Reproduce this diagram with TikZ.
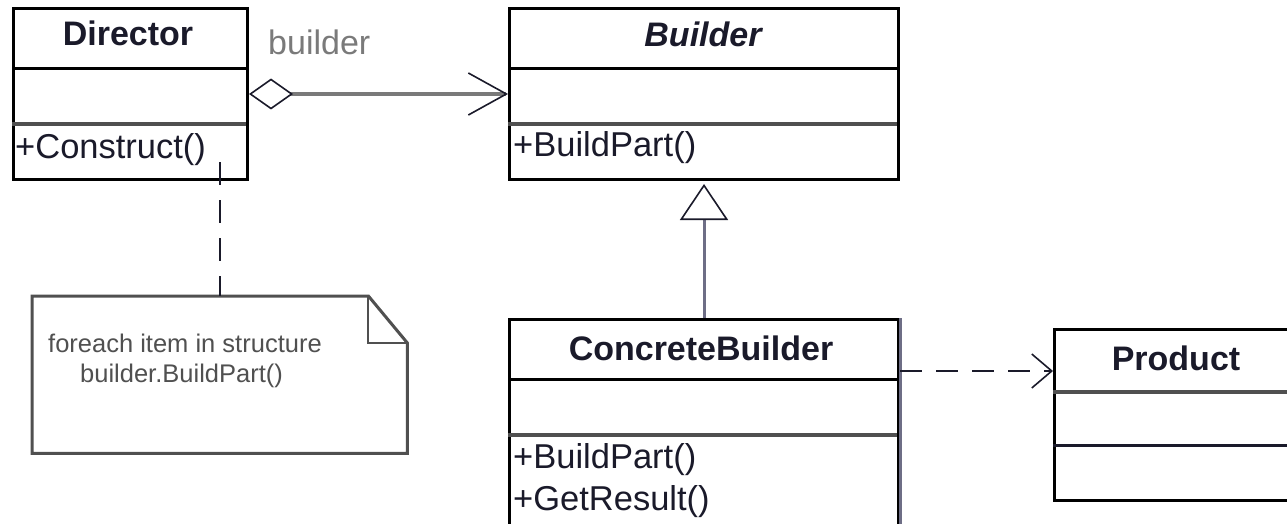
\documentclass[tikz,border=0pt]{standalone}
\usepackage{fontspec}
\setmainfont{Liberation Sans}
\usetikzlibrary{arrows.meta}
\definecolor{ink}{HTML}{1A1A2A}
\definecolor{rule}{HTML}{505050}
\definecolor{linkgrey}{HTML}{7A7A7A}
\definecolor{edgeblue}{HTML}{6E6E86}
\begin{document}
\begin{tikzpicture}[x=1pt,y=-1pt,
  classbox/.style={draw=black, line width=3pt, inner sep=0pt, anchor=north west},
  divider/.style={draw=black, line width=3pt},
  opsdivider/.style={draw=rule, line width=4pt},
  classname/.style={anchor=base, inner sep=0pt, text=ink, font=\fontsize{34}{40}\selectfont\bfseries},
  member/.style={anchor=base west, inner sep=0pt, text=ink, font=\fontsize{34.5}{40}\selectfont},
  notetext/.style={anchor=base west, inner sep=0pt, text=rule, font=\fontsize{25.5}{30}\selectfont},
  rolelabel/.style={anchor=base west, inner sep=0pt, text=linkgrey, font=\fontsize{34}{40}\selectfont},
  aggregation/.style={draw=linkgrey, line width=3.5pt,
    {Diamond[open, fill=white, length=44pt, width=31pt, line width=1.6pt, color=ink]}-{Straight Barb[length=38pt, width=42pt, line width=1.6pt, color=ink]}},
  generalization/.style={draw=edgeblue, line width=3pt,
    -{Triangle[open, fill=white, length=36pt, width=48pt, line width=1.6pt, color=ink]}, shorten >=3pt},
  dependency/.style={draw=ink, line width=2.5pt, dash pattern=on 22pt off 14pt,
    -{Straight Barb[length=20pt, width=34pt, line width=1.6pt, color=ink]}},
  notelink/.style={draw=ink, line width=2.5pt, dash pattern=on 23pt off 15pt},
]
\clip (0,0) rectangle (1287,524);
\useasboundingbox (0,0) rectangle (1287,524);
\fill[white] (0,0) rectangle (1287,524);

% Director
\node[classbox, minimum width=234pt, minimum height=171pt] (director) at (12,7) {};
\draw[divider] (12,69) -- (246,69);
\draw[opsdivider] (12,124) -- (246,124);
\node[classname] (directorname) at (128,46) {Director};
\node[member] (construct) at (15,158) {+Construct()};

% Builder (abstract)
\node[classbox, minimum width=389pt, minimum height=171pt] (builder) at (508,7) {};
\draw[divider] (508,69) -- (897,69);
\draw[opsdivider] (508,124) -- (897,124);
\node[classname, font=\fontsize{34}{40}\selectfont\bfseries\itshape] (buildername) at (703,47) {Builder};
\node[member] (buildpart) at (513,157) {+BuildPart()};

% ConcreteBuilder
\node[classbox, minimum width=389pt, minimum height=260pt] (cb) at (508,318) {};
\draw[edgeblue, line width=3pt] (cb.north east) -- (cb.south east);
\draw[divider] (508,379) -- (897,379);
\draw[opsdivider] (508,435) -- (897,435);
\node[classname] (cbname) at (701,360) {ConcreteBuilder};
\node[member] (cbbuild) at (513,468) {+BuildPart()};
\node[member] (cbresult) at (513,510) {+GetResult()};

% Product
\node[classbox, minimum width=250pt, minimum height=171pt] (product) at (1053,328) {};
\draw[opsdivider] (1053,392) -- (1303,392);
\draw[draw=ink, line width=3pt] (1053,445) -- (1303,445);
\node[classname] (productname) at (1176,370) {Product};

% Note with folded corner
\node[minimum width=375pt, minimum height=157pt, inner sep=0pt, anchor=north west] (note) at (32,296) {};
\draw[rule, line width=3pt, line join=miter]
  (note.north west) -- ([xshift=-39pt]note.north east) -- ([yshift=-47pt]note.north east)
  -- (note.south east) -- (note.south west) -- cycle;
\draw[rule, line width=2pt]
  ([xshift=-39pt]note.north east) -- ([xshift=-39pt, yshift=-47pt]note.north east)
  -- ([yshift=-47pt]note.north east);
\node[notetext] (noteline1) at (48,352) {foreach item in structure};
\node[notetext] (noteline2) at (80,382) {builder.BuildPart()};

% Connectors
\node[rolelabel] (rolename) at (268,55) {builder};
\draw[aggregation] (director.east) -- (builder.west);
\draw[generalization] (cb.north) -- (builder.south);
\path (cb.north east) ++(0,53) coordinate (depstart);
\draw[dependency] (depstart) -- (depstart -| product.west);
\coordinate (notestart) at (220,162);
\draw[notelink] (notestart) -- (notestart |- note.north);
\end{tikzpicture}
\end{document}
